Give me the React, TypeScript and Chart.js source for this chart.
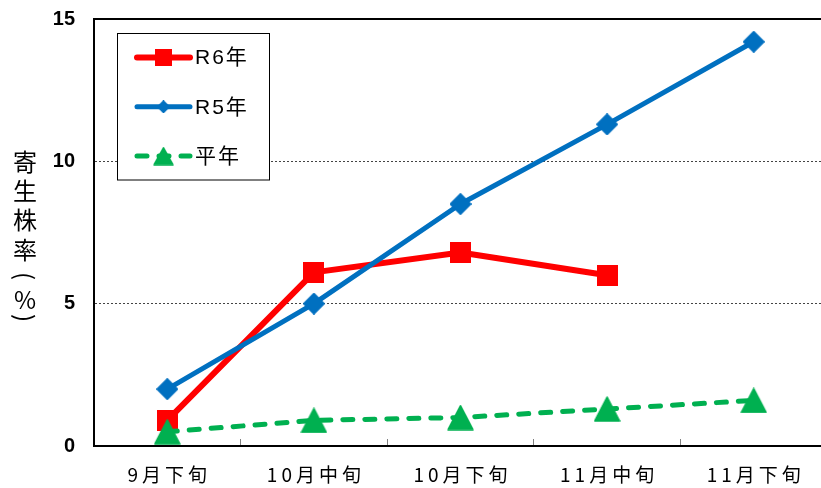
import React, { useEffect, useRef } from 'react';
import { Chart, registerables } from 'chart.js';

Chart.register(...registerables);

// ---- data ----
const categories = ['9月下旬', '10月中旬', '10月下旬', '11月中旬', '11月下旬'];
const r6Values: (number | null)[] = [0.9, 6.1, 6.8, 6.0, null];
const r5Values: (number | null)[] = [2.0, 5.0, 8.5, 11.3, 14.2];
const normalValues: (number | null)[] = [0.5, 0.9, 1.0, 1.3, 1.6];
const seriesLabels = ['R6年', 'R5年', '平年'];
const yMin = 0;
const yMax = 15;
const yStep = 5;
const yTitleChars = ['寄', '生', '株', '率', '(', '%', ')'];

// ---- styles ----
const RED = '#FF0000';
const BLUE = '#0070C0';
const GREEN = '#00B050';
const JP = '"Noto Sans CJK JP", "Noto Sans", sans-serif';

function makeMarker(shape: string, w: number, h: number, color: string) {
  const c = document.createElement('canvas');
  c.width = w;
  c.height = h;
  const g = c.getContext('2d')!;
  g.fillStyle = color;
  g.strokeStyle = color;
  g.lineJoin = 'round';
  g.lineWidth = 1.5;
  g.beginPath();
  if (shape === 'square') {
    g.rect(0, 0, w, h);
  } else if (shape === 'diamond') {
    g.moveTo(w / 2, 0.75);
    g.lineTo(w - 0.75, h / 2);
    g.lineTo(w / 2, h - 0.75);
    g.lineTo(0.75, h / 2);
    g.closePath();
  } else {
    g.moveTo(w / 2, 1);
    g.lineTo(w - 1, h - 1);
    g.lineTo(1, h - 1);
    g.closePath();
  }
  g.fill();
  if (shape !== 'square') g.stroke();
  return c;
}

const yTitlePlugin = {
  id: 'yTitle',
  afterDraw(chart: any) {
    const ctx = chart.ctx;
    const centers = [162, 191, 220, 250, 276, 300, 318];
    ctx.save();
    ctx.fillStyle = '#000';
    ctx.textAlign = 'center';
    ctx.textBaseline = 'middle';
    ctx.font = `24px ${JP}`;
    yTitleChars.forEach((ch, i) => {
      if (ch === '(' || ch === ')') {
        ctx.save();
        ctx.translate(25, centers[i]);
        ctx.rotate(Math.PI / 2);
        ctx.fillText(ch, 0, 0);
        ctx.restore();
      } else {
        ctx.fillText(ch, 25, centers[i]);
      }
    });
    ctx.restore();
  },
};

const topBorderPlugin = {
  id: 'topBorder',
  beforeDatasetsDraw(chart: any) {
    const { ctx, chartArea } = chart;
    ctx.save();
    ctx.strokeStyle = '#000';
    ctx.lineWidth = 2;
    ctx.beginPath();
    ctx.moveTo(chartArea.left, chartArea.top);
    ctx.lineTo(chartArea.right, chartArea.top);
    ctx.stroke();
    ctx.restore();
  },
};

const xLabelSpacingPlugin = {
  id: 'xLabelSpacing',
  afterLayout(chart: any) {
    const sx = chart.scales.x;
    if (sx && !sx._lsWrapped) {
      const orig = sx.drawLabels.bind(sx);
      sx.drawLabels = (area: any) => {
        const c = chart.ctx;
        c.save();
        c.letterSpacing = '4px';
        c.translate(2, 0);
        orig(area);
        c.letterSpacing = '0px';
        c.restore();
      };
      sx._lsWrapped = true;
    }
  },
};

export default function App() {
  const ref = useRef<HTMLCanvasElement>(null);

  useEffect(() => {
    const chartMarkers = [
      makeMarker('square', 21, 21, RED),
      makeMarker('diamond', 22, 22, BLUE),
      makeMarker('triangle', 27, 26, GREEN),
    ];
    const legendMarkers = [
      makeMarker('square', 17, 17, RED),
      makeMarker('diamond', 13, 13, BLUE),
      makeMarker('triangle', 21, 19, GREEN),
    ];

    const legendPlugin = {
      id: 'boxLegend',
      afterDraw(chart: any) {
        const ctx = chart.ctx;
        ctx.save();
        ctx.fillStyle = '#fff';
        ctx.fillRect(117.5, 33.5, 152, 146.5);
        ctx.strokeStyle = '#000';
        ctx.lineWidth = 1;
        ctx.strokeRect(117.5, 33.5, 152, 146.5);
        chart.data.datasets.forEach((ds: any, i: number) => {
          const y = 57.5 + i * 49.3;
          ctx.beginPath();
          ctx.strokeStyle = ds.borderColor;
          ctx.lineWidth = ds.borderWidth;
          ctx.lineCap = ds.borderCapStyle || 'butt';
          ctx.setLineDash(ds.borderDash || []);
          ctx.moveTo(137, y);
          ctx.lineTo(190, y);
          ctx.stroke();
          ctx.setLineDash([]);
          const m = legendMarkers[i];
          ctx.drawImage(m, 163.5 - m.width / 2, y - m.height / 2);
          ctx.fillStyle = '#000';
          ctx.font = `21px "Liberation Sans", ${JP}`;
          (ctx as any).letterSpacing = '2px';
          ctx.textBaseline = 'middle';
          ctx.textAlign = 'left';
          ctx.fillText(ds.label, 195, y + 1);
          (ctx as any).letterSpacing = '0px';
        });
        ctx.restore();
      },
    };

    const chart = new Chart(ref.current!, {
      type: 'line',
      data: {
        labels: categories,
        datasets: [
          {
            label: seriesLabels[0],
            data: r6Values,
            borderColor: RED,
            backgroundColor: RED,
            borderWidth: 6,
            borderCapStyle: 'round',
            borderJoinStyle: 'round',
            pointStyle: chartMarkers[0] as any,
            pointRadius: 10,
            tension: 0,
            order: 3,
            clip: false as any,
          },
          {
            label: seriesLabels[1],
            data: r5Values,
            borderColor: BLUE,
            backgroundColor: BLUE,
            borderWidth: 5,
            borderCapStyle: 'round',
            borderJoinStyle: 'round',
            pointStyle: chartMarkers[1] as any,
            pointRadius: 10,
            tension: 0,
            order: 2,
            clip: false as any,
          },
          {
            label: seriesLabels[2],
            data: normalValues,
            borderColor: GREEN,
            backgroundColor: GREEN,
            borderWidth: 5,
            borderDash: [10, 12],
            borderCapStyle: 'round',
            borderJoinStyle: 'round',
            pointStyle: chartMarkers[2] as any,
            pointRadius: 10,
            tension: 0,
            order: 1,
            clip: false as any,
          },
        ],
      },
      options: {
        responsive: false,
        animation: false,
        devicePixelRatio: 1,
        layout: { padding: { top: 19, right: 13, left: 0, bottom: 0 } },
        plugins: {
          legend: { display: false },
          tooltip: { enabled: false },
          title: { display: false },
        },
        scales: {
          x: {
            type: 'category',
            offset: true,
            grid: {
              offset: true,
              drawOnChartArea: false,
              drawTicks: true,
              tickLength: -7,
              tickColor: '#808080',
              tickWidth: 1,
            },
            border: { display: true, color: '#000', width: 2 },
            ticks: {
              color: '#000',
              font: { size: 19, family: JP },
              padding: 24,
              maxRotation: 0,
              autoSkip: false,
            },
            afterFit: (s: any) => {
              s.height = 42;
              s.paddingLeft = 0;
              s.paddingRight = 0;
            },
          },
          y: {
            min: yMin,
            max: yMax,
            ticks: {
              stepSize: yStep,
              color: '#000',
              font: { size: 20, weight: 'bold', family: '"Liberation Sans", Arial, sans-serif' },
              padding: 19,
            },
            grid: {
              drawTicks: false,
              lineWidth: 1,
              color: (c: any) =>
                c.tick && c.tick.value > yMin && c.tick.value < yMax ? '#444' : 'rgba(0,0,0,0)',
            },
            border: { display: true, color: '#000', width: 2, dash: [2, 2] },
            afterFit: (s: any) => {
              s.width = 94;
              s.paddingTop = 0;
              s.paddingBottom = 0;
            },
          },
        },
      },
      plugins: [xLabelSpacingPlugin, topBorderPlugin, yTitlePlugin, legendPlugin],
    } as any);
    return () => chart.destroy();
  }, []);

  return (
    <div
      style={{
        position: 'fixed',
        left: 0,
        top: 0,
        width: 821,
        height: 488,
        overflow: 'hidden',
        background: '#fff',
      }}
    >
      <canvas ref={ref} width={843} height={488} style={{ display: 'block' }} />
    </div>
  );
}
